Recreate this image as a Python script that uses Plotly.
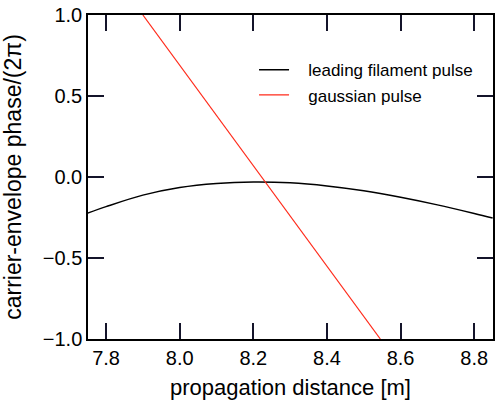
import plotly.graph_objects as go

# leading filament pulse: carrier-envelope phase along propagation
z_filament = [7.75, 7.8, 7.9, 8.0, 8.1, 8.2, 8.3, 8.4, 8.5, 8.6, 8.7, 8.8, 8.85]
cep_filament = [-0.223, -0.183, -0.112, -0.065, -0.040, -0.031, -0.036,
                -0.055, -0.085, -0.125, -0.172, -0.225, -0.253]

# gaussian pulse: linear phase slip
z_gauss = [7.9, 8.545]
cep_gauss = [1.0, -1.0]

# tick layout
x_tick0, x_dtick = 7.8, 0.2
y_tick0, y_dtick = 0.0, 0.5

FONT = "Liberation Sans, Arial, Helvetica, sans-serif"
NB = "\u00a0"
TICK_COLOR = "#14142a"

fig = go.Figure()
fig.add_trace(go.Scatter(
    x=z_filament, y=cep_filament, mode="lines", line_shape="spline",
    line=dict(color="black", width=1.5),
    name=NB * 3 + "leading filament pulse",
))
fig.add_trace(go.Scatter(
    x=z_gauss, y=cep_gauss, mode="lines",
    line=dict(color="#ff2a1a", width=1.2),
    name=NB * 3 + "gaussian pulse",
))

fig.update_xaxes(
    range=[7.751, 8.851], tickmode="linear", tick0=x_tick0, dtick=x_dtick,
    showline=True, linecolor="black", linewidth=1.5, mirror="ticks",
    ticks="inside", ticklen=16, tickcolor=TICK_COLOR, tickwidth=2,
    showgrid=False, zeroline=False, tickformat=".1f",
    tickfont=dict(family=FONT, size=20, color="black"),
    title=dict(text="propagation distance [m]", font=dict(family=FONT, size=22, color="black")),
)
fig.update_yaxes(
    range=[-1.0, 1.0], tickmode="linear", tick0=y_tick0, dtick=y_dtick,
    showline=True, linecolor="black", linewidth=1.5, mirror="ticks",
    ticks="inside", ticklen=16, tickcolor=TICK_COLOR, tickwidth=2,
    showgrid=False, zeroline=False, tickformat=".1f",
    tickfont=dict(family=FONT, size=20, color="black"),
    title=dict(text="carrier-envelope phase/(2π)", font=dict(family=FONT, size=23, color="black")),
)

fig.update_layout(
    width=496, height=400,
    margin=dict(l=88, r=1, t=15, b=58),
    plot_bgcolor="white", paper_bgcolor="white",
    legend=dict(
        x=0.41, y=0.885, xanchor="left", yanchor="top",
        bgcolor="rgba(0,0,0,0)", borderwidth=0,
        font=dict(family=FONT, size=17, color="black"),
    ),
)

fig.write_html("out.html")
